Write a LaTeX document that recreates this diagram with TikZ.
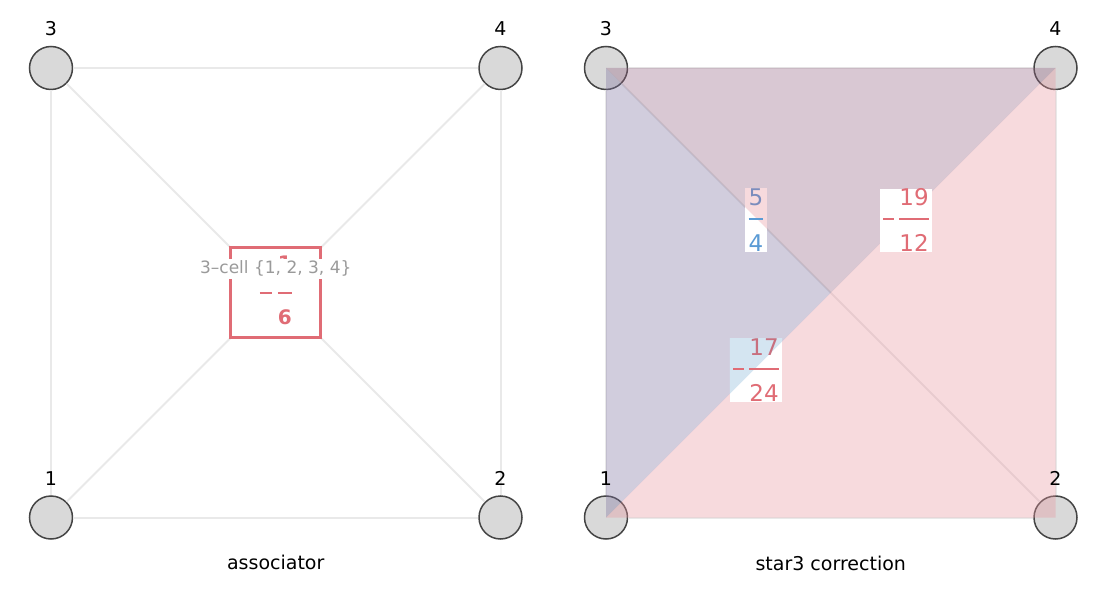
\documentclass[tikz,border=0pt]{standalone}
\usepackage{fontspec}
\setmainfont{DejaVu Sans}
\usepackage{color}
\usepackage{tikz}
\usetikzlibrary{shapes,arrows,positioning,calc}
\definecolor{edgegray}{HTML}{E9E9E9}
\definecolor{nodegray}{HTML}{D9D9D9}
\definecolor{rimgray}{HTML}{444444}
\definecolor{cellred}{HTML}{E06C75}
\definecolor{labelgray}{HTML}{9A9A9A}
\definecolor{fracblue}{HTML}{5B9BD5}
\definecolor{fracslate}{HTML}{7B8DBD}
\definecolor{fracmauve}{HTML}{C8707F}
\definecolor{fracpink}{HTML}{F7DADD}
\definecolor{fracsky}{HTML}{D4E5F1}
\definecolor{leftfill}{RGB}{124,112,158}
\definecolor{topfill}{RGB}{146,98,129}
\definecolor{lowfill}{RGB}{232,149,158}
\tikzstyle{vertex} = [circle, draw=rimgray, fill=nodegray, line width=1.5pt, minimum size=43pt, inner sep=0pt]
\tikzstyle{num} = [font=\fontsize{19}{23}\selectfont, inner sep=0pt, node distance=39pt]
\tikzstyle{edge} = [draw, edgegray, line width=2pt]
\tikzstyle{cell} = [rectangle, draw=cellred, line width=3pt, fill=white, minimum size=90pt, inner sep=0pt, text=cellred, font=\fontsize{20}{24}\selectfont\bfseries]
\tikzstyle{tag} = [fill=white, text=labelgray, font=\fontsize{17}{20}\selectfont, inner sep=2pt]
\tikzstyle{share} = [fill opacity=0.35]
\tikzstyle{fracbox} = [rectangle, fill=white, inner ysep=0pt, inner xsep=3.5pt, font=\fontsize{23}{27}\selectfont]
\tikzstyle{caption} = [font=\fontsize{19}{23}\selectfont]
\newlength{\fracw}
\newcommand{\qfrac}[7]{%
	\settowidth{\fracw}{#5}%
	\renewcommand{\arraystretch}{0.7}%
	\begin{tabular}{@{}c@{}}
		\textcolor{#4}{#5}\\[#1]
		\textcolor{#6}{\rule{\fracw}{2pt}}\\[#2]
		\textcolor{#6}{#7}\\[#3]
	\end{tabular}}
\newcommand{\qminus}[2]{\textcolor{#1}{\rule[#2]{11pt}{2pt}}\kern5pt}

\begin{document}
\begin{tikzpicture}[node distance=449.5pt, x=1pt, y=-1pt]
					\useasboundingbox (0,0) rectangle (1110,593);
					\node [vertex] (a3) at (51,68) {};
					\node [vertex, right of=a3] (a4) {};
					\node [vertex, below of=a3] (a1) {};
					\node [vertex, below of=a4] (a2) {};
					\path [edge] (a1) -- (a2);
					\path [edge] (a1) -- (a3);
					\path [edge] (a3) -- (a4);
					\path [edge] (a4) -- (a2);
					\path [edge] (a1) -- (a4);
					\path [edge] (a3) -- (a2);
					\node [num, above of=a3] (n3) {3};
					\node [num, above of=a4] (n4) {4};
					\node [num, above of=a1] (n1) {1};
					\node [num, above of=a2] (n2) {2};
					\node [cell] (cell) at ($(a1)!0.5!(a4)$) {\textcolor{cellred}{\rule[3.5pt]{12pt}{2.5pt}}\kern6pt\qfrac{6.6pt}{10.2pt}{0pt}{cellred}{1}{cellred}{6}};
					\node [tag, above of=cell, node distance=24pt] (celltag) {3–cell \{1, 2, 3, 4\}};
					\node [caption, below of=cell, node distance=270pt] (assoc) {associator};
					\node [vertex] (b3) at (606,68) {};
					\node [vertex, right of=b3] (b4) {};
					\node [vertex, below of=b3] (b1) {};
					\node [vertex, below of=b4] (b2) {};
					\coordinate (bmid) at ($(b1)!0.5!(b4)$);
					\path [edge] (b1) -- (b2);
					\path [edge] (b1) -- (b3);
					\path [edge] (b3) -- (b4);
					\path [edge] (b4) -- (b2);
					\path [edge] (b3) -- (b2);
					\fill [leftfill, share] (b1.center) -- (b3.center) -- (bmid) -- cycle;
					\fill [topfill, share] (b3.center) -- (b4.center) -- (bmid) -- cycle;
					\fill [lowfill, share] (b4.center) -- (b2.center) -- (b1.center) -- cycle;
					\node [num, above of=b3] (m3) {3};
					\node [num, above of=b4] (m4) {4};
					\node [num, above of=b1] (m1) {1};
					\node [num, above of=b2] (m2) {2};
					\node [fracbox, path picture={\fill [fracpink] (b3.center) -- (b4.center) -- (b2.center) -- cycle;}] (q54) at (756,220.5) {\qfrac{-4.7pt}{9.1pt}{-5pt}{fracslate}{5}{fracblue}{4}};
					\node [fracbox] (q1912) at (906,220.5) {\qminus{cellred}{6.6pt}\qfrac{-4.7pt}{9.1pt}{-5pt}{cellred}{19}{cellred}{12}};
					\node [fracbox, path picture={\fill [fracsky] (b1.center) -- (b3.center) -- (b4.center) -- cycle;}] (q1724) at (756,370.5) {\qminus{cellred}{6.6pt}\qfrac{-4.7pt}{9.1pt}{-5pt}{fracmauve}{17}{cellred}{24}};
					\node [caption, below of=bmid, node distance=270.5pt] (star) {star3 correction};
				\end{tikzpicture}
\end{document}
